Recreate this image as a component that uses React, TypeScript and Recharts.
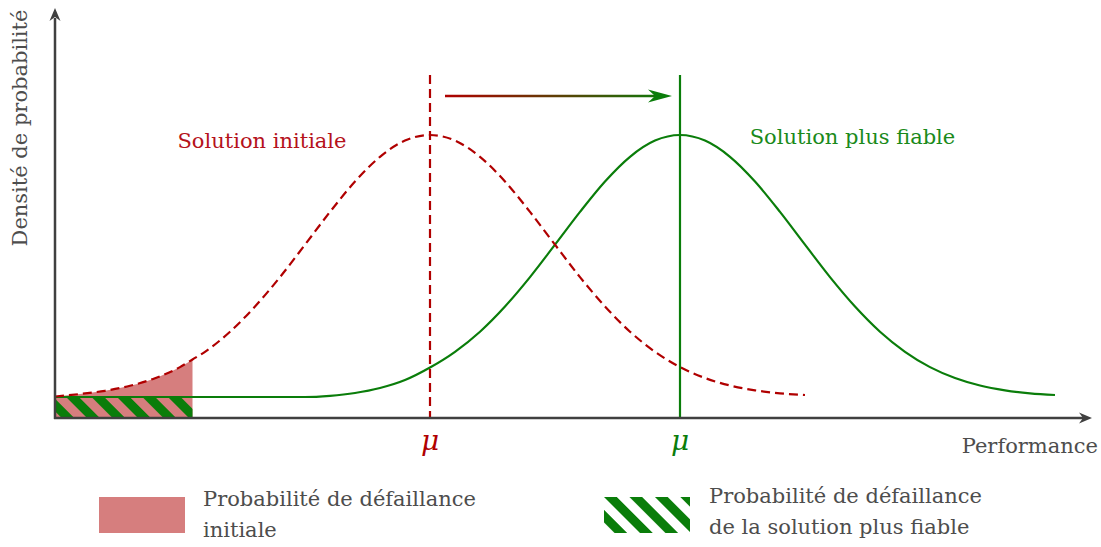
import React from 'react'
import { ComposedChart, Line, Area, XAxis, YAxis, ReferenceLine, ReferenceDot } from 'recharts'

// performance positions (arbitrary units)
const performance = [0, 1, 2, 3, 4, 5, 5.5, 6, 7, 8, 9, 10, 11, 12, 13, 14, 15, 16, 17, 18, 19, 20, 21, 22, 23, 24, 25, 26, 27, 28, 29, 30, 31, 32, 33, 34, 35, 36, 37, 38, 39, 40]

// densité, solution initiale (0 .. 30)
const initial = [0.215, 0.24, 0.272, 0.322, 0.398, 0.509, 0.585, 0.662, 0.863, 1.115, 1.409, 1.733, 2.061, 2.365, 2.612, 2.774, 2.83, 2.774, 2.612, 2.365, 2.061, 1.733, 1.409, 1.115, 0.863, 0.662, 0.509, 0.4, 0.325, 0.277, 0.247, 0.23]

// densité, solution plus fiable (0 .. 40)
const reliable = [0.21, 0.21, 0.21, 0.21, 0.21, 0.21, 0.21, 0.21, 0.21, 0.21, 0.21, 0.21, 0.222, 0.25, 0.3, 0.38, 0.505, 0.662, 0.863, 1.115, 1.409, 1.733, 2.061, 2.365, 2.612, 2.774, 2.83, 2.774, 2.612, 2.365, 2.061, 1.733, 1.409, 1.115, 0.863, 0.662, 0.509, 0.4, 0.325, 0.277, 0.247, 0.23]

const failLimit = 5.5
const muInitial = 15
const muReliable = 25
const muTop = 3.43
const shiftArrow = [15.6, 24.6]
const shiftY = 3.22

const RED = '#b00000'
const GREEN = '#0a7d0a'
const FILL = '#d67e7e'
const AX = '#404040'
const TXT = '#4d4d4d'
const FONT = '"DejaVu Serif", serif'

const data = performance.map((p, i) => ({
  p,
  initial: i < initial.length ? initial[i] : null,
  reliable: reliable[i],
  fail: p <= failLimit ? initial[i] : null,
  hatch: p <= failLimit ? reliable[i] : null,
}))

function AxisArrow(props: any) {
  const { x1, y1, x2, y2 } = props
  const vertical = Math.abs(x1 - x2) < 1
  if (vertical) {
    const tx = x1
    const ty = Math.min(y1, y2)
    const by = Math.max(y1, y2)
    return (
      <g>
        <line x1={tx} y1={by + 1} x2={tx} y2={ty + 8} stroke={AX} strokeWidth={2.5} />
        <polygon points={`${tx},${ty - 2} ${tx - 5.5},${ty + 11} ${tx},${ty + 7} ${tx + 5.5},${ty + 11}`} fill={AX} />
      </g>
    )
  }
  const ty = y1
  const tx = Math.max(x1, x2)
  const bx = Math.min(x1, x2)
  return (
    <g>
      <line x1={bx - 1} y1={ty} x2={tx - 6} y2={ty} stroke={AX} strokeWidth={2.5} />
      <polygon points={`${tx + 2},${ty} ${tx - 11},${ty - 5.5} ${tx - 7},${ty} ${tx - 11},${ty + 5.5}`} fill={AX} />
    </g>
  )
}

function MuLine(color: string, dashed: boolean) {
  return (props: any) => {
    const { x1, y1, y2 } = props
    const top = Math.min(y1, y2)
    const bottom = Math.max(y1, y2)
    return (
      <g>
        <line x1={x1} y1={top} x2={x1} y2={bottom} stroke={color} strokeWidth={2.2} strokeDasharray={dashed ? '9 5' : undefined} />
        <text x={x1} y={bottom + 32} textAnchor="middle" fill={color} fontFamily={FONT} fontStyle="italic" fontSize={28}>
          μ
        </text>
      </g>
    )
  }
}

function ShiftArrow(props: any) {
  const { x1, y1, x2 } = props
  const a = Math.min(x1, x2)
  const b = Math.max(x1, x2)
  return (
    <g>
      <defs>
        <linearGradient id="shiftGrad" gradientUnits="userSpaceOnUse" x1={a} y1={y1} x2={b} y2={y1}>
          <stop offset="0%" stopColor={RED} />
          <stop offset="100%" stopColor={GREEN} />
        </linearGradient>
      </defs>
      <line x1={a} y1={y1} x2={b - 8} y2={y1} stroke="url(#shiftGrad)" strokeWidth={2.6} />
      <polygon points={`${b + 2},${y1} ${b - 22},${y1 - 6.5} ${b - 15},${y1} ${b - 22},${y1 + 6.5}`} fill={GREEN} />
    </g>
  )
}

function TextMark(label: string, color: string) {
  return (props: any) => (
    <text x={props.cx} y={props.cy} textAnchor="middle" dominantBaseline="central" fill={color} fontFamily={FONT} fontSize={21}>
      {label}
    </text>
  )
}

function Hatch({ id }: { id: string }) {
  return (
    <pattern id={id} patternUnits="userSpaceOnUse" width={18} height={18} patternTransform="rotate(-45)">
      <rect x={0} y={0} width={9} height={18} fill={GREEN} />
    </pattern>
  )
}

export default function App() {
  return (
    <div style={{ position: 'absolute', left: 0, top: 0, width: 1101, height: 547, background: '#fff' }}>
      <ComposedChart width={1101} height={547} data={data} margin={{ top: 10, right: 11, left: 55, bottom: 129 }}>
        <defs>
          <Hatch id="hatchGreen" />
        </defs>
        <XAxis dataKey="p" type="number" domain={[0, 41.4]} allowDataOverflow hide />
        <YAxis type="number" domain={[0, 4.08]} allowDataOverflow hide />
        <Area dataKey="fail" type="monotone" fill={FILL} fillOpacity={1} stroke="none" isAnimationActive={false} connectNulls={false} />
        <Area dataKey="hatch" type="linear" fill="url(#hatchGreen)" fillOpacity={1} stroke="none" isAnimationActive={false} connectNulls={false} />
        <Line dataKey="reliable" type="monotone" stroke={GREEN} strokeWidth={2.2} dot={false} isAnimationActive={false} />
        <Line dataKey="initial" type="monotone" stroke={RED} strokeWidth={2.2} strokeDasharray="9 5" dot={false} isAnimationActive={false} />
        <ReferenceLine segment={[{ x: muInitial, y: 0 }, { x: muInitial, y: muTop }]} shape={MuLine(RED, true)} />
        <ReferenceLine segment={[{ x: muReliable, y: 0 }, { x: muReliable, y: muTop }]} shape={MuLine(GREEN, false)} />
        <ReferenceLine segment={[{ x: shiftArrow[0], y: shiftY }, { x: shiftArrow[1], y: shiftY }]} shape={ShiftArrow} />
        <ReferenceLine y={0} shape={AxisArrow} />
        <ReferenceLine x={0} shape={AxisArrow} />
        <ReferenceDot x={8.28} y={2.77} r={0} shape={TextMark('Solution initiale', '#b5121b')} />
        <ReferenceDot x={31.9} y={2.81} r={0} shape={TextMark('Solution plus fiable', '#1a8a1a')} />
      </ComposedChart>

      <div style={{ position: 'absolute', left: 1098, top: 432, transform: 'translateX(-100%)', fontFamily: FONT, fontSize: 21, color: TXT, whiteSpace: 'nowrap', lineHeight: '28px' }}>
        Performance
      </div>
      <div
        style={{
          position: 'absolute',
          left: 20,
          top: 128,
          transform: 'translate(-50%, -50%) rotate(-90deg)',
          fontFamily: FONT,
          fontSize: 21,
          color: TXT,
          whiteSpace: 'nowrap',
          lineHeight: '28px',
        }}
      >
        Densité de probabilité
      </div>

      <div style={{ position: 'absolute', left: 99, top: 497, width: 86, height: 36, background: FILL }} />
      <div style={{ position: 'absolute', left: 203, top: 484, fontFamily: FONT, fontSize: 21, color: TXT, lineHeight: '31px', whiteSpace: 'nowrap' }}>
        Probabilité de défaillance
        <br />
        initiale
      </div>
      <svg style={{ position: 'absolute', left: 604, top: 497 }} width={86} height={36}>
        <defs>
          <Hatch id="hatchLegend" />
        </defs>
        <rect width={86} height={36} fill="url(#hatchLegend)" />
      </svg>
      <div style={{ position: 'absolute', left: 709, top: 481, fontFamily: FONT, fontSize: 21, color: TXT, lineHeight: '31px', whiteSpace: 'nowrap' }}>
        Probabilité de défaillance
        <br />
        de la solution plus fiable
      </div>
    </div>
  )
}
